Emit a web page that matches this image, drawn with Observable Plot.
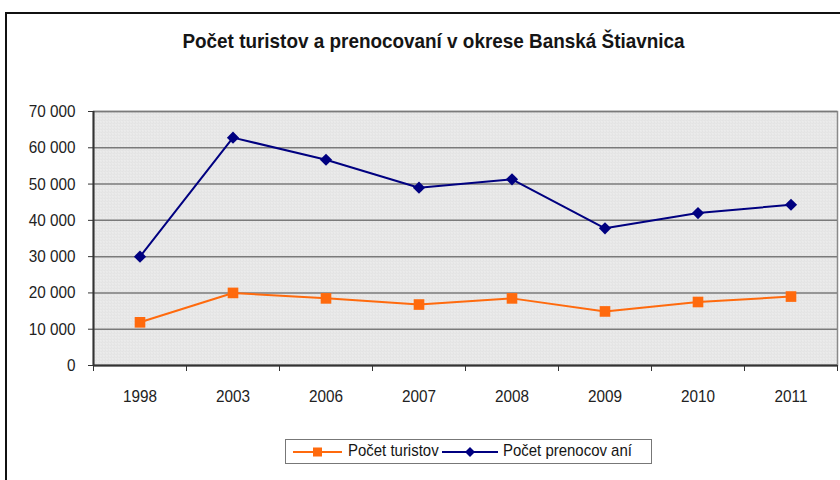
<!DOCTYPE html>
<html>
<head>
<meta charset="utf-8">
<script src="https://cdn.jsdelivr.net/npm/d3@7"></script>
<script src="https://cdn.jsdelivr.net/npm/@observablehq/plot@0.6"></script>
<style>
  html, body { margin: 0; padding: 0; background: #fff; }
  #wrap { position: relative; width: 840px; height: 480px; overflow: hidden; font-family: "Liberation Sans", Arial, sans-serif; }
  #frame { position: absolute; left: 5px; top: 12px; width: 845px; height: 480px; border-left: 2px solid #111; border-top: 2px solid #111; box-sizing: border-box; }
  #title { position: absolute; left: 0; width: 867px; top: 29px; text-align: center; font-size: 21px; font-weight: bold; color: #151515; transform: scaleX(0.9); transform-origin: 433.5px 0; white-space: nowrap; }
  #chart { position: absolute; left: 0; top: 0; }
  #legend { position: absolute; left: 285px; top: 439px; width: 367px; height: 25px; border: 1px solid #777; background: #fff; box-sizing: border-box; font-size: 17px; color: #151515; }
  #legend svg { position: absolute; top: 6px; }
  #legend span { position: absolute; top: 1px; transform: scaleX(0.88); transform-origin: 0 0; white-space: nowrap; }
</style>
</head>
<body>
<div id="wrap">
  <div id="frame"></div>
  <div id="chart"></div>
  <div id="title"></div>
  <div id="legend"></div>
</div>
<script>
const title = "Počet turistov a prenocovaní v okrese Banská Štiavnica";
const years = ["1998", "2003", "2006", "2007", "2008", "2009", "2010", "2011"];
const turisti = [11900, 20000, 18500, 16800, 18500, 14900, 17500, 19000];
const prenocovani = [30000, 62800, 56700, 49000, 51300, 37800, 42000, 44300];
const seriesNames = ["Počet turistov", "Počet prenocov aní"];
const seriesColors = ["#ff6a0d", "#000080"];
const yTicks = [0, 10000, 20000, 30000, 40000, 50000, 60000, 70000];

const rows = [];
years.forEach((y, i) => {
  rows.push({i, year: y, series: seriesNames[0], value: turisti[i]});
  rows.push({i, year: y, series: seriesNames[1], value: prenocovani[i]});
});
const idx = years.map((_, i) => i);
const bounds = d3.range(years.length + 1).map(i => i - 0.5);
const fmt = v => d3.format(",")(v).replace(/,/g, " ");

function patternDefs() {
  const ns = "http://www.w3.org/2000/svg";
  const g = document.createElementNS(ns, "g");
  g.innerHTML = `<defs><pattern id="dots" width="3" height="3" patternUnits="userSpaceOnUse">
    <rect width="3" height="3" fill="#e3e3e3"></rect>
    <rect x="1" y="1" width="1" height="1" fill="#fafafa"></rect>
    <rect x="0" y="0" width="1" height="1" fill="#efefef"></rect>
  </pattern></defs>`;
  return g;
}

const chart = Plot.plot({
  width: 840,
  height: 480,
  marginLeft: 93,
  marginRight: 3,
  marginTop: 111,
  marginBottom: 115,
  style: {fontFamily: "'Liberation Sans', Arial, sans-serif", fontSize: "17px", color: "#222", background: "transparent"},
  x: {domain: [-0.5, years.length - 0.5]},
  y: {domain: [0, 70000]},
  marks: [
    patternDefs,
    Plot.frame({fill: "url(#dots)", stroke: "#8a8a8a", strokeWidth: 1.5}),
    Plot.gridY(yTicks, {stroke: "#7a7a7a", strokeOpacity: 1, strokeWidth: 1.5}),
    Plot.ruleY([0], {stroke: "#333", strokeWidth: 2}),
    Plot.ruleX([-0.5], {stroke: "#333", strokeWidth: 2}),
    Plot.axisY({ticks: yTicks, tickFormat: fmt, tickSize: 5, tickPadding: 13, label: null, stroke: "#333", fill: "#222", fontSize: 17}),
    Plot.axisX({ticks: bounds, tickFormat: () => "", tickSize: 6, label: null, stroke: "#333"}),
    Plot.axisX({ticks: idx, tickFormat: i => years[i], tickSize: 0, tickPadding: 24, label: null, fill: "#222", fontSize: 17}),
    Plot.line(rows, {x: "i", y: "value", z: "series", stroke: d => d.series, strokeWidth: 2}),
    Plot.dot(rows.filter(d => d.series === seriesNames[0]), {x: "i", y: "value", symbol: "square", r: 6, fill: seriesColors[0], stroke: null}),
    Plot.dot(rows.filter(d => d.series === seriesNames[1]), {x: "i", y: "value", symbol: "diamond2", r: 5.5, fill: seriesColors[1], stroke: null})
  ],
  color: {domain: seriesNames, range: seriesColors}
});
// narrow the tick labels to mimic the condensed font of the original
chart.querySelectorAll('g[aria-label$="tick label"] text').forEach(t => {
  const tr = t.getAttribute("transform") || "";
  t.setAttribute("transform", tr + " scale(0.9,1)");
});
document.getElementById("chart").appendChild(chart);
document.getElementById("title").textContent = title;

const legend = document.getElementById("legend");
const swX = [7, 156];
const txX = [62, 217];
seriesNames.forEach((name, k) => {
  const sw = document.createElementNS("http://www.w3.org/2000/svg", "svg");
  sw.setAttribute("width", k === 0 ? 49 : 56);
  sw.setAttribute("height", 12);
  sw.style.left = swX[k] + "px";
  const w = k === 0 ? 49 : 56;
  sw.innerHTML = k === 0
    ? `<line x1="0" y1="6" x2="${w}" y2="6" stroke="${seriesColors[k]}" stroke-width="2"/><rect x="${w/2-4.5}" y="1.5" width="9" height="9" fill="${seriesColors[k]}"/>`
    : `<line x1="0" y1="6" x2="${w}" y2="6" stroke="${seriesColors[k]}" stroke-width="2"/><path d="M${w/2},1 L${w/2+5},6 L${w/2},11 L${w/2-5},6 Z" fill="${seriesColors[k]}"/>`;
  legend.appendChild(sw);
  const sp = document.createElement("span");
  sp.textContent = name;
  sp.style.left = txX[k] + "px";
  legend.appendChild(sp);
});
</script>
</body>
</html>
